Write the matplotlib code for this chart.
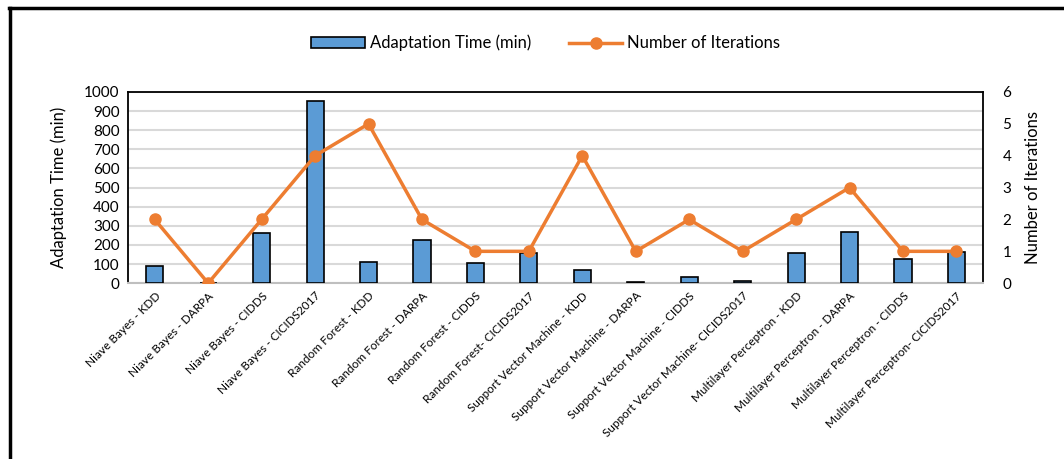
import matplotlib.pyplot as plt
import numpy as np
from matplotlib.lines import Line2D

plt.rcParams['font.family'] = ['Lato', 'DejaVu Sans']

labels = [
    'Niave Bayes - KDD', 'Niave Bayes - DARPA', 'Niave Bayes - CIDDS', 'Niave Bayes - CICIDS2017',
    'Random Forest - KDD', 'Random Forest - DARPA', 'Random Forest - CIDDS', 'Random Forest- CICIDS2017',
    'Support Vector Machine - KDD', 'Support Vector Machine - DARPA', 'Support Vector Machine - CIDDS',
    'Support Vector Machine- CICIDS2017', 'Multilayer Perceptron - KDD', 'Multilayer Perceptron - DARPA',
    'Multilayer Perceptron - CIDDS', 'Multilayer Perceptron- CICIDS2017',
]
adapt_time = [88, 2, 265, 955, 109, 227, 104, 156, 69, 5, 30, 12, 156, 267, 126, 163]
iterations = [2, 0, 2, 4, 5, 2, 1, 1, 4, 1, 2, 1, 2, 3, 1, 1]

fig = plt.figure(figsize=(10.64, 4.59), dpi=100)
ax = fig.add_axes([0.1203, 0.383, 0.8037, 0.4166])
x = np.arange(len(labels))

ax.bar(x, adapt_time, width=0.32, color='#5B9BD5', edgecolor='black', linewidth=1.2, zorder=3)
ax.set_ylim(0, 1000)
ax.set_yticks(range(0, 1001, 100))
ax.set_xlim(-0.5, len(labels) - 0.5)
ax.set_xticks(x)
ax.set_xticklabels(labels, rotation=45, ha='right', rotation_mode='anchor', fontsize=8.5)
ax.tick_params(axis='x', length=0, pad=5)
ax.tick_params(axis='y', length=0, labelsize=11, pad=6)
ax.grid(axis='y', color='#d9d9d9', linewidth=1.5, zorder=0)
ax.set_ylabel('Adaptation Time (min)', fontsize=12, labelpad=12)
for s in ['left', 'top', 'right']:
    ax.spines[s].set_linewidth(1.3)
ax.spines['bottom'].set_color('#bfbfbf')
ax.spines['bottom'].set_linewidth(1.5)

ax2 = ax.twinx()
ax2.plot(x, iterations, color='#ED7D31', linewidth=2.5, marker='o', markersize=8, zorder=4)
ax2.set_ylim(0, 6)
ax2.set_yticks(range(0, 7))
ax2.tick_params(axis='y', length=0, labelsize=11, pad=14)
ax2.set_ylabel('Number of Iterations', fontsize=12, labelpad=10)
for s in ax2.spines.values():
    s.set_visible(False)

handles = [
    plt.Rectangle((0, 0), 1, 1, facecolor='#5B9BD5', edgecolor='black', linewidth=1.2),
    Line2D([0], [0], color='#ED7D31', linewidth=2.5, marker='o', markersize=8),
]
fig.legend(handles, ['Adaptation Time (min)', 'Number of Iterations'], loc='center',
           bbox_to_anchor=(0.513, 0.906), ncol=2, frameon=False, fontsize=12,
           handlelength=3.2, handleheight=0.6, columnspacing=2.3, handletextpad=0.3)

# outer chart frame (left and top edges visible)
fig.add_artist(Line2D([0.009, 0.009], [0, 0.982], color='black', linewidth=2.5, transform=fig.transFigure))
fig.add_artist(Line2D([0.008, 1.0], [0.982, 0.982], color='black', linewidth=2.5, transform=fig.transFigure))

fig.savefig('out.png', dpi=100)
